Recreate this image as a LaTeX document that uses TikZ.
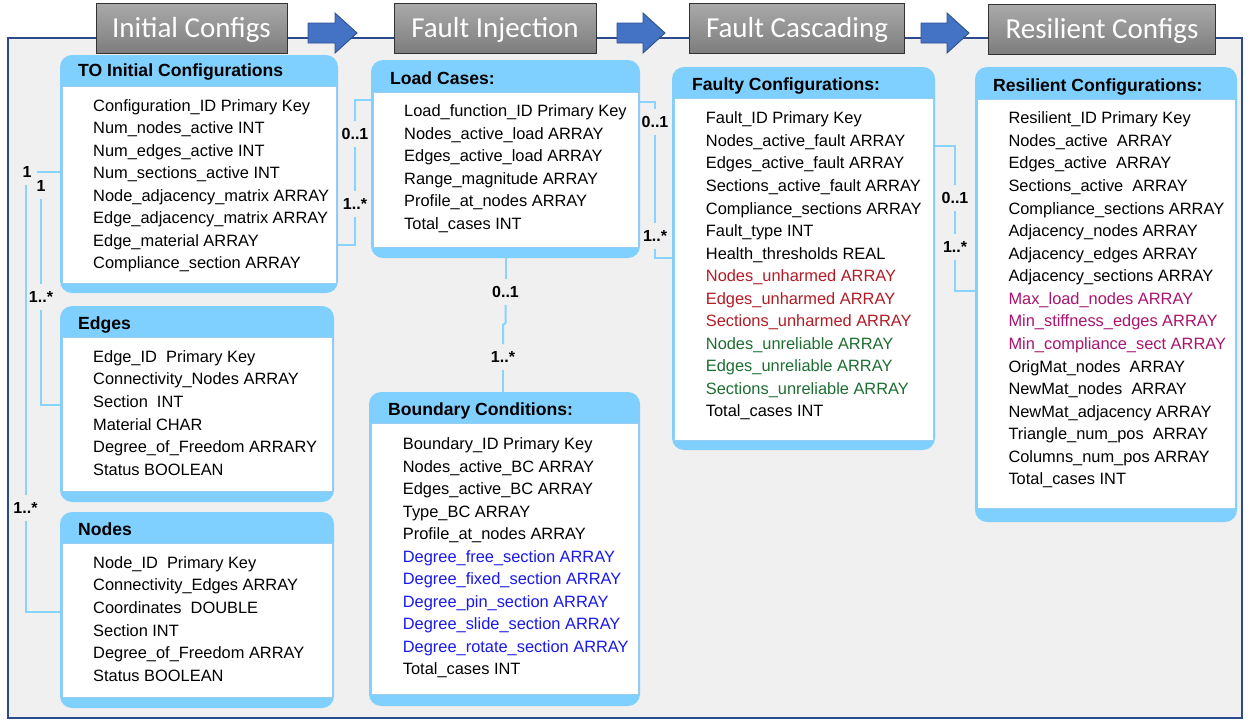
\documentclass[tikz,border=0pt]{standalone}
\usepackage{fontspec}
\setmainfont{Liberation Sans}
\newfontfamily\hdrfont{Carlito}
\definecolor{tblue}{RGB}{128,208,255}
\definecolor{cblue}{RGB}{135,212,255}
\definecolor{tline}{RGB}{150,205,240}
\definecolor{framecol}{RGB}{45,75,140}
\definecolor{bggray}{RGB}{240,240,240}
\definecolor{hdrtop}{RGB}{170,170,170}
\definecolor{hdrbot}{RGB}{125,125,125}
\definecolor{hdrline}{RGB}{50,50,50}
\definecolor{arrfill}{RGB}{68,114,196}
\definecolor{arrline}{RGB}{47,82,143}
\definecolor{cred}{RGB}{178,28,38}
\definecolor{cgreen}{RGB}{30,110,50}
\definecolor{cblu}{RGB}{25,25,235}
\definecolor{cmag}{RGB}{170,20,110}
\newcommand{\ertable}[7]{%
  \node[tbl, anchor=north west, minimum width={(#4-#2)*1pt}, minimum height={(#5-#3)*1pt}] (#1) at (#2,#3) {};
  \path[fill=white, draw=tline, line width=0.6pt] (#2+2,#6) rectangle (#4-2,#7);
}
\newcommand{\ertrows}[5]{%
  \foreach \rowtext [count=\i] in {#5} {\node[row] (#1-\i) at (#2, {#3+(\i-1)*#4}) {\rowtext};}
}
\newcommand{\blockarrow}[3]{%
  \draw[arr] (#1,23) -- (#2,23) -- (#2,13) -- (#3,33) -- (#2,53) -- (#2,43) -- (#1,43) -- cycle;
}
\begin{document}
\begin{tikzpicture}[x=1pt,y=-1pt,
  tbl/.style={fill=tblue, rounded corners=12pt, inner sep=0pt, outer sep=0pt, draw=none},
  row/.style={anchor=west, inner sep=0pt, font=\fontsize{16.4}{20}\selectfont, text height=11.7pt, text depth=0pt},
  ttl/.style={anchor=west, inner sep=0pt, font=\fontsize{17.6}{20}\selectfont\bfseries, text height=12.6pt, text depth=0pt},
  lbl/.style={inner xsep=5pt, inner ysep=7pt, font=\fontsize{16}{18}\selectfont\bfseries, text height=11.2pt, text depth=0pt},
  cn/.style={draw=cblue, line width=2pt},
  hdr/.style={draw=hdrline, line width=0.9pt, top color=hdrtop, bottom color=hdrbot, inner sep=0pt, minimum height=50pt, text=white, font=\hdrfont\fontsize{29}{30}\selectfont, text height=18.5pt, text depth=0pt},
  arr/.style={fill=arrfill, draw=arrline, line width=0.9pt}
]
\useasboundingbox (0,0) rectangle (1250,724);
\fill[white] (0,0) rectangle (1250,724);
\draw[draw=framecol, line width=1.6pt, fill=bggray] (8,38) rectangle (1242,718);

% header boxes and arrows
\node[hdr, minimum width=191pt] (h1) at (191.5,28) {Initial Configs};
\node[hdr, minimum width=202pt] (h2) at (495,28) {Fault Injection};
\node[hdr, minimum width=215pt] (h3) at (797,28) {Fault Cascading};
\node[hdr, minimum width=227pt] (h4) at (1102,29) {Resilient Configs};
\blockarrow{308}{335}{357}
\blockarrow{617}{643}{665}
\blockarrow{921}{947}{969}

% tables
\ertable{to}{60}{55}{338}{293}{86}{283}
\ertable{ed}{60}{306}{334}{502}{337}{491}
\ertable{nd}{60}{512}{334}{708}{543}{697}
\ertable{lc}{371}{60}{640}{258}{92}{247}
\ertable{bc}{369}{392}{640}{706}{423}{694}
\ertable{fc}{672}{67}{935}{450}{98}{440}
\ertable{rc}{975}{67}{1237}{522}{99}{508}

\node[ttl] (to-title) at (78,70) {TO Initial Configurations};
\node[ttl] (ed-title) at (78,323.5) {Edges};
\node[ttl] (nd-title) at (78,529) {Nodes};
\node[ttl] (lc-title) at (390,78) {Load Cases:};
\node[ttl] (bc-title) at (388,409.5) {Boundary Conditions:};
\node[ttl] (fc-title) at (692,84) {Faulty Configurations:};
\node[ttl] (rc-title) at (993,85) {Resilient Configurations:};

\ertrows{to}{93}{105.5}{22.45}{Configuration\_ID Primary Key, Num\_nodes\_active INT, Num\_edges\_active INT, Num\_sections\_active INT, Node\_adjacency\_matrix ARRAY, Edge\_adjacency\_matrix ARRAY, Edge\_material ARRAY, Compliance\_section ARRAY}
\ertrows{ed}{93}{356.5}{22.6}{Edge\_ID\ \ Primary Key, Connectivity\_Nodes ARRAY, Section\ \ INT, Material CHAR, Degree\_of\_Freedom ARRARY, Status BOOLEAN}
\ertrows{nd}{93}{562.5}{22.6}{Node\_ID\ \ Primary Key, Connectivity\_Edges ARRAY, Coordinates\ \ DOUBLE, Section INT, Degree\_of\_Freedom ARRAY, Status BOOLEAN}
\ertrows{lc}{404}{111}{22.5}{Load\_function\_ID Primary Key, Nodes\_active\_load ARRAY, Edges\_active\_load ARRAY, Range\_magnitude ARRAY, Profile\_at\_nodes ARRAY, Total\_cases INT}
\ertrows{bc}{402.7}{444}{22.5}{Boundary\_ID Primary Key, Nodes\_active\_BC ARRAY, Edges\_active\_BC ARRAY, Type\_BC ARRAY, Profile\_at\_nodes ARRAY, {\color{cblu}Degree\_free\_section ARRAY}, {\color{cblu}Degree\_fixed\_section ARRAY}, {\color{cblu}Degree\_pin\_section ARRAY}, {\color{cblu}Degree\_slide\_section ARRAY}, {\color{cblu}Degree\_rotate\_section ARRAY}, Total\_cases INT}
\ertrows{fc}{705.7}{118}{22.54}{Fault\_ID Primary Key, Nodes\_active\_fault ARRAY, Edges\_active\_fault ARRAY, Sections\_active\_fault ARRAY, Compliance\_sections ARRAY, Fault\_type INT, Health\_thresholds REAL, {\color{cred}Nodes\_unharmed ARRAY}, {\color{cred}Edges\_unharmed ARRAY}, {\color{cred}Sections\_unharmed ARRAY}, {\color{cgreen}Nodes\_unreliable ARRAY}, {\color{cgreen}Edges\_unreliable ARRAY}, {\color{cgreen}Sections\_unreliable ARRAY}, Total\_cases INT}
\ertrows{rc}{1008.3}{118}{22.56}{Resilient\_ID Primary Key, Nodes\_active\ \ ARRAY, Edges\_active\ \ ARRAY, Sections\_active\ \ ARRAY, Compliance\_sections ARRAY, Adjacency\_nodes ARRAY, Adjacency\_edges ARRAY, Adjacency\_sections ARRAY, {\color{cmag}Max\_load\_nodes ARRAY}, {\color{cmag}Min\_stiffness\_edges ARRAY}, {\color{cmag}Min\_compliance\_sect ARRAY}, OrigMat\_nodes\ \ ARRAY, NewMat\_nodes\ \ ARRAY, NewMat\_adjacency ARRAY, Triangle\_num\_pos\ \ ARRAY, Columns\_num\_pos ARRAY, Total\_cases INT}

% multiplicity labels
\node[lbl] (lA1) at (27,172) {1};
\node[lbl] (lA2) at (25.5,508) {1..*};
\node[lbl] (lB1) at (41,186) {1};
\node[lbl] (lB2) at (41,297) {1..*};
\node[lbl] (lC1) at (355,134) {0..1};
\node[lbl] (lC2) at (355,204) {1..*};
\node[lbl] (lD1) at (655,122) {0..1};
\node[lbl] (lD2) at (655,236) {1..*};
\node[lbl] (lE1) at (955,198) {0..1};
\node[lbl] (lE2) at (955,247) {1..*};
\node[lbl] (lF1) at (505.5,292) {0..1};
\node[lbl] (lF2) at (503,357) {1..*};
\coordinate (jogA) at (505.5,323);
\coordinate (jogB) at (503,325);

% connectors
\draw[cn] (to.west |- 0,172) -- (lA1.east);
\draw[cn] (lA1.south -| 25.5,0) -- (lA2.north);
\draw[cn] (lA2.south) |- (nd.west |- 0,612);
\draw[cn] (lB1.north |- 0,172) -- (lB1.north);
\draw[cn] (lB1.south) -- (lB2.north);
\draw[cn] (lB2.south) |- (ed.west |- 0,405);
\draw[cn] (lc.west |- 0,100) -| (lC1.north);
\draw[cn] (lC1.south) -- (lC2.north);
\draw[cn] (lC2.south) |- (to.east |- 0,245);
\draw[cn] (lc.east |- 0,102) -| (lD1.north);
\draw[cn] (lD1.south) -- (lD2.north);
\draw[cn] (lD2.south) |- (fc.west |- 0,258);
\draw[cn] (fc.east |- 0,146) -| (lE1.north);
\draw[cn] (lE1.south) -- (lE2.north);
\draw[cn] (lE2.south) |- (rc.west |- 0,291);
\draw[cn] (lc.south) -- (lF1.north);
\draw[cn] (lF1.south) -- (jogA) -- (jogB) -- (lF2.north);
\draw[cn] (lF2.south) -- (lF2.south |- bc.north);
\end{tikzpicture}
\end{document}
